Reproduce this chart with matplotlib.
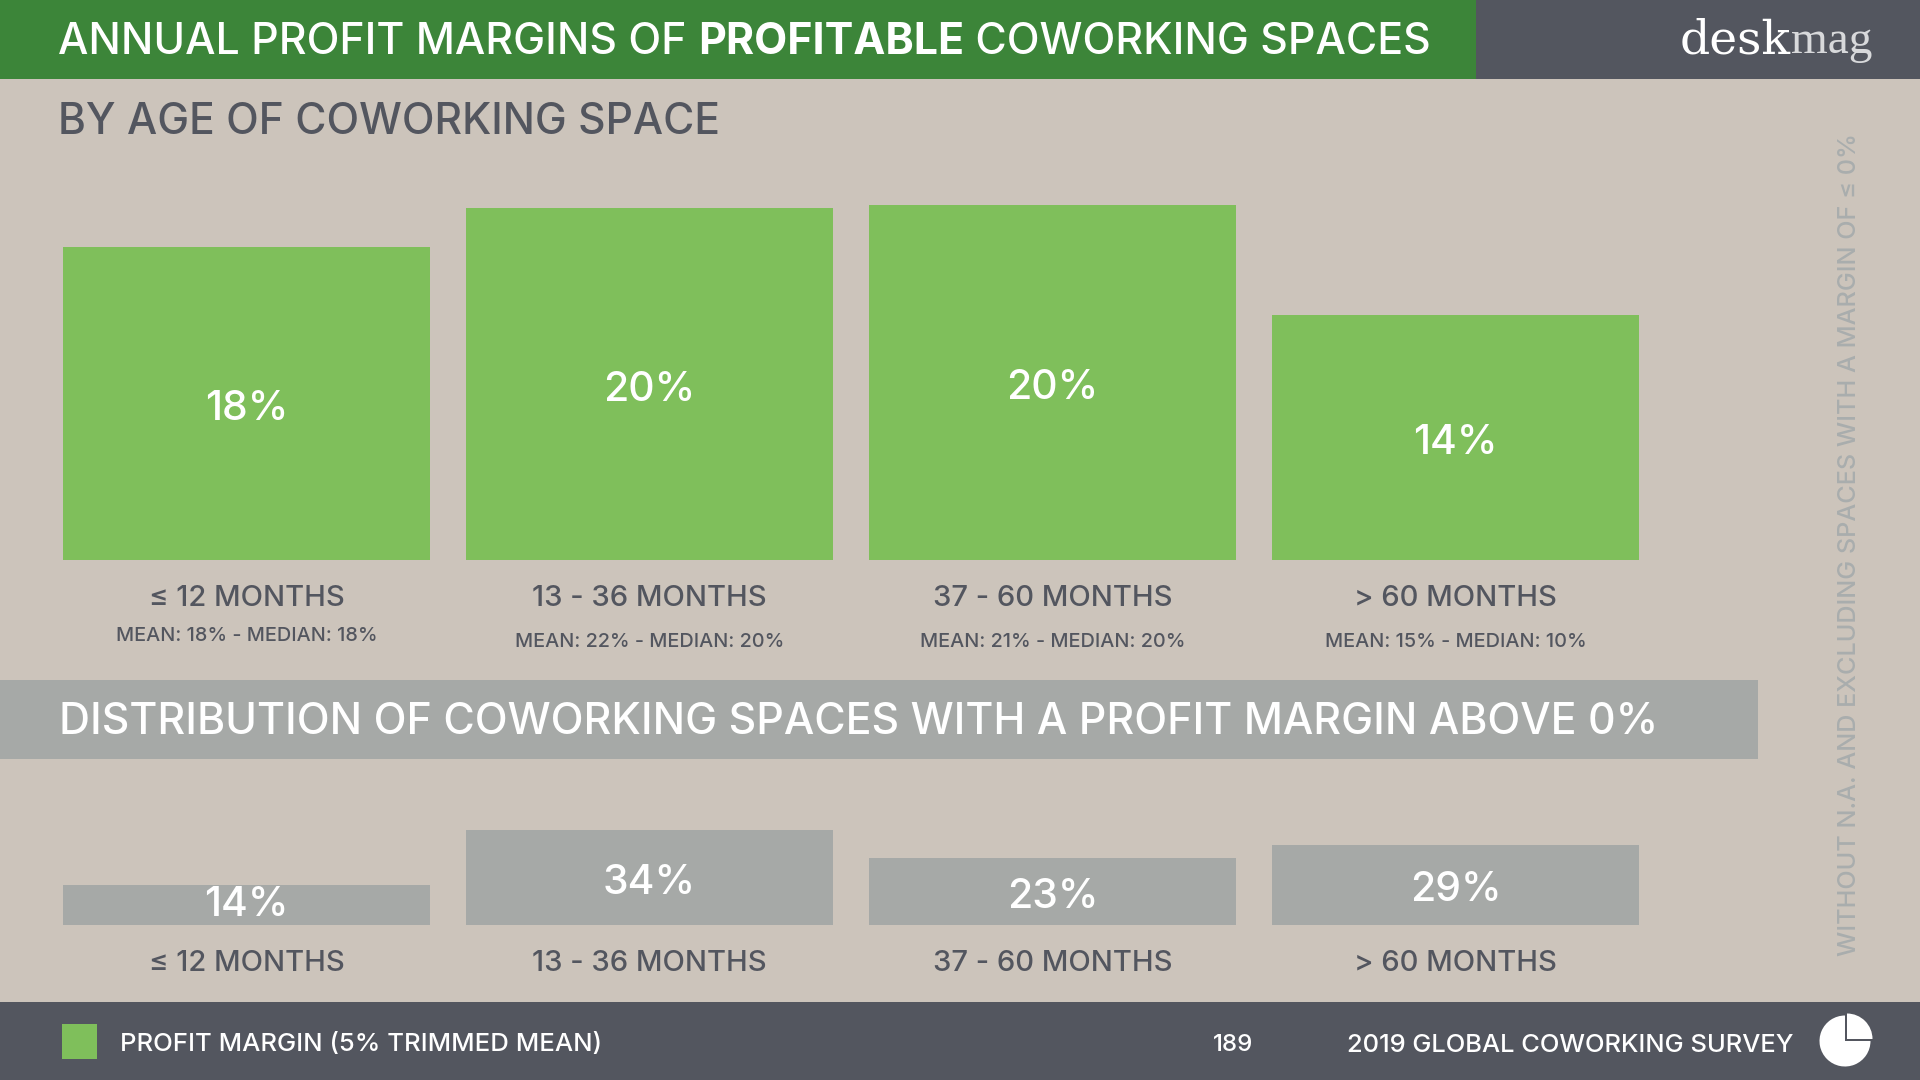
import matplotlib
matplotlib.use('Agg')
import matplotlib.pyplot as plt
from matplotlib.patches import Rectangle, Wedge

plt.rcParams['font.family'] = ['Inter', 'DejaVu Sans']
plt.rcParams['font.weight'] = 500

BG = '#CCC4BB'
DARK = '#53565F'
HEAD_GREEN = '#3C8539'
GREEN = '#7FBF5B'
GREY = '#A6A9A7'
SIDE = '#A9ADAD'

months = ['≤ 12 MONTHS', '13 - 36 MONTHS', '37 - 60 MONTHS', '> 60 MONTHS']
margin_values = [17.9, 20.1, 20.3, 14.0]
margin_labels = ['18%', '20%', '20%', '14%']
mean_median = ['MEAN: 18% - MEDIAN: 18%', 'MEAN: 22% - MEDIAN: 20%',
               'MEAN: 21% - MEDIAN: 20%', 'MEAN: 15% - MEDIAN: 10%']
dist_values = [14.3, 34, 23.9, 28.7]
dist_labels = ['14%', '34%', '23%', '29%']

W, H = 1920, 1080


def add_bar_axes(fig, base_y, top_y, ymax):
    ax = fig.add_axes([63 / W, 1 - base_y / H, (1639 - 63) / W, (base_y - top_y) / H], zorder=2)
    ax.patch.set_alpha(0)
    ax.set_xlim(-0.455, 3.455)
    ax.set_ylim(0, ymax)
    ax.set_yticks([])
    for s in ax.spines.values():
        s.set_visible(False)
    ax.set_xticks(range(4))
    ax.set_xticklabels(months, fontsize=21, color=DARK)
    ax.tick_params(axis='x', length=0, pad=18)
    return ax


def value_label(ax, i, v, label, dy=-4):
    ax.annotate(label, xy=(i, v / 2), xytext=(0, dy), textcoords='offset points',
                color='white', fontsize=29.5, ha='center', va='center')


fig = plt.figure(figsize=(19.2, 10.8), dpi=100, facecolor=BG)

# page furniture in pixel coords
bg = fig.add_axes([0, 0, 1, 1], zorder=0)
bg.set_xlim(0, W)
bg.set_ylim(H, 0)
bg.axis('off')
bg.add_patch(Rectangle((0, 0), W, 79, color=DARK, lw=0))
bg.add_patch(Rectangle((0, 0), 1476, 79, color=HEAD_GREEN, lw=0))
bg.add_patch(Rectangle((0, 680), 1758, 79, color=GREY, lw=0))
bg.add_patch(Rectangle((0, 1002), W, 78, color=DARK, lw=0))
bg.add_patch(Rectangle((62, 1024), 35, 35, color=GREEN, lw=0))

# pie icon
bg.add_patch(Wedge((1845, 1041), 25.5, 0, 270, color='white', lw=0))
bg.add_patch(Wedge((1847, 1039), 25.5, 270, 360, color='white', lw=0))

# title, the bold word is chained on
r = fig.canvas.get_renderer()
x = 58
for part, weight in [('ANNUAL PROFIT MARGINS OF ', 500), ('PROFITABLE', 'bold'), (' COWORKING SPACES', 500)]:
    t = bg.text(x, 43, part.replace(' ', '\u00a0'), fontsize=30.85, fontweight=weight, color='white',
                va='center', ha='left')
    x = bg.transData.inverted().transform(t.get_window_extent(r))[1][0]

# logo
t = bg.text(1680, 53, 'desk', fontsize=34, family='DejaVu Serif', fontweight='normal', color='white', va='baseline')
x = bg.transData.inverted().transform(t.get_window_extent(r))[1][0]
bg.text(x, 53, 'mag', fontsize=34, family='Liberation Serif', fontweight='normal', color='#D8D9DB', va='baseline')

bg.text(58, 123, 'BY AGE OF COWORKING SPACE', fontsize=30.7, color=DARK, va='center')
bg.text(59, 723, 'DISTRIBUTION OF COWORKING SPACES WITH A PROFIT MARGIN ABOVE 0%',
        fontsize=30.9, color='white', va='center')
bg.text(120, 1045, 'PROFIT MARGIN (5% TRIMMED MEAN)', fontsize=18.5, color='white', va='center')
bg.text(1233, 1045, '189', fontsize=17.3, color='white', va='center', ha='center')
bg.text(1347, 1045, '2019 GLOBAL COWORKING SURVEY', fontsize=18.4, color='white', va='center')
bg.text(1850, 544, 'WITHOUT N.A. AND EXCLUDING SPACES WITH A MARGIN OF ≤ 0%', fontsize=18.2,
        color=SIDE, rotation=90, va='center', ha='center')

# top chart
ax = add_bar_axes(fig, 560, 140, 24)
ax.bar(range(4), margin_values, width=0.91, color=GREEN)
for i, v in enumerate(margin_values):
    value_label(ax, i, v, margin_labels[i])
    offs = -55 if i == 0 else -59
    ax.annotate(mean_median[i], xy=(i, 0), xytext=(0, offs), textcoords='offset points',
                fontsize=14.3, color=DARK, ha='center', va='center')

# bottom chart
ax2 = add_bar_axes(fig, 925, 813, 40)
ax2.bar(range(4), dist_values, width=0.91, color=GREY)
for i, v in enumerate(dist_values):
    value_label(ax2, i, v, dist_labels[i], dy=0 if i == 0 else -4)

fig.savefig('out.png', dpi=100, facecolor=BG)
